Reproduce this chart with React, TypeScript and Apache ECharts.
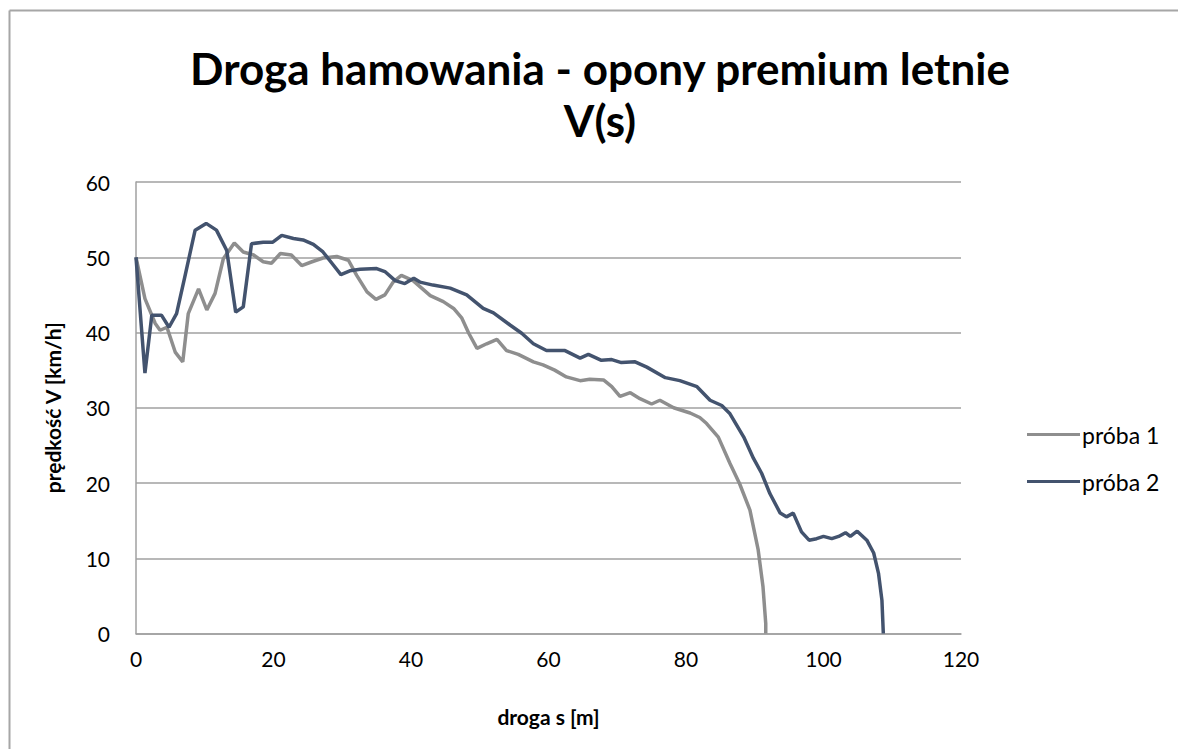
import React, { useEffect, useRef } from "react";
import * as echarts from "echarts";

const titleLines = ["Droga hamowania - opony premium letnie", "V(s)"];
const xAxisName = "droga s [m]";
const yAxisName = "prędkość V [km/h]";
const seriesNames = ["próba 1", "próba 2"];

const s1X = [0, 1.3, 2.8, 3.5, 4.5, 5.7, 6.8, 7.6, 9.1, 10.3, 11.5, 12.7, 14.3, 15.6, 17.1, 18.5, 19.7, 21.0, 22.6, 24.1, 25.6, 27.2, 29.2, 30.9, 32.1, 33.6, 34.9, 36.2, 37.4, 38.6, 40.3, 41.3, 42.8, 44.7, 46.2, 47.4, 48.4, 49.6, 51.0, 52.5, 53.9, 55.6, 57.8, 59.2, 60.9, 62.6, 64.6, 66.0, 68.0, 69.2, 70.4, 71.9, 73.3, 75.0, 76.2, 78.2, 80.6, 82.0, 83.0, 84.7, 86.4, 87.8, 89.3, 90.5, 91.2, 91.6, 91.6];
const s1Y = [50, 44.5, 41.2, 40.3, 40.7, 37.4, 36.1, 42.5, 45.8, 43.0, 45.2, 49.8, 51.9, 50.7, 50.3, 49.4, 49.2, 50.5, 50.3, 48.9, 49.4, 49.9, 50.1, 49.6, 47.6, 45.4, 44.4, 45.0, 46.7, 47.6, 46.9, 46.1, 44.9, 44.1, 43.2, 41.9, 39.9, 37.9, 38.5, 39.1, 37.6, 37.1, 36.1, 35.7, 35.0, 34.1, 33.6, 33.8, 33.7, 32.8, 31.5, 32.0, 31.2, 30.5, 31.0, 30.0, 29.3, 28.7, 27.9, 26.1, 22.6, 19.9, 16.4, 11.1, 6.2, 1.3, 0];

const s2X = [0, 1.3, 2.3, 3.7, 4.8, 5.9, 7.1, 8.6, 10.2, 11.7, 13.2, 14.5, 15.6, 16.8, 18.5, 19.9, 21.2, 22.9, 24.3, 25.8, 27.2, 28.5, 29.8, 31.1, 32.6, 35.0, 36.2, 37.7, 39.1, 40.4, 41.3, 43.2, 45.7, 48.1, 50.5, 52.0, 54.4, 56.1, 57.8, 59.7, 62.4, 64.6, 65.8, 67.7, 69.2, 70.6, 72.6, 74.3, 77.0, 79.1, 81.6, 83.5, 85.2, 86.4, 88.4, 89.8, 91.0, 92.2, 93.7, 94.6, 95.6, 96.8, 97.9, 99.0, 100.0, 101.2, 102.2, 103.2, 103.9, 104.9, 106.3, 107.3, 108.0, 108.5, 108.7];
const s2Y = [50, 34.6, 42.3, 42.3, 40.7, 42.5, 47.4, 53.6, 54.5, 53.6, 50.9, 42.7, 43.4, 51.8, 52.0, 52.0, 52.9, 52.5, 52.3, 51.7, 50.7, 49.2, 47.7, 48.2, 48.4, 48.5, 48.1, 46.9, 46.5, 47.2, 46.7, 46.3, 45.9, 45.0, 43.2, 42.6, 41.0, 39.9, 38.5, 37.6, 37.6, 36.6, 37.1, 36.3, 36.4, 36.0, 36.1, 35.4, 34.0, 33.6, 32.8, 31.0, 30.3, 29.2, 26.1, 23.3, 21.3, 18.6, 16.0, 15.5, 16.0, 13.5, 12.4, 12.6, 12.9, 12.6, 12.9, 13.4, 12.9, 13.6, 12.4, 10.7, 8.0, 4.4, 0];

const colors = ["#8e8e8e", "#43536e"];
const FONT = "Lato, 'Open Sans', sans-serif";

export default function App() {
  const ref = useRef<HTMLDivElement>(null);
  useEffect(() => {
    if (!ref.current) return;
    const chart = echarts.init(ref.current, null, { renderer: "svg" });
    const pair = (xs: number[], ys: number[]) => xs.map((x, i) => [x, ys[i]]);
    chart.setOption({
      animation: false,
      backgroundColor: "#ffffff",
      textStyle: { fontFamily: FONT },
      graphic: [
        {
          type: "line",
          shape: { x1: 9.5, y1: 10.5, x2: 1178, y2: 10.5 },
          style: { stroke: "#a6a6a6", lineWidth: 2 },
          silent: true,
        },
        {
          type: "line",
          shape: { x1: 9.5, y1: 10.5, x2: 9.5, y2: 749 },
          style: { stroke: "#a6a6a6", lineWidth: 2 },
          silent: true,
        },
        {
          type: "text",
          style: {
            text: titleLines[0],
            x: 600,
            y: 68,
            textAlign: "center",
            textVerticalAlign: "middle",
            fontFamily: FONT,
            fontWeight: "bold",
            fontSize: 44,
            fill: "#000",
          },
        },
        {
          type: "text",
          style: {
            text: titleLines[1],
            x: 600,
            y: 120,
            textAlign: "center",
            textVerticalAlign: "middle",
            fontFamily: FONT,
            fontWeight: "bold",
            fontSize: 44,
            fill: "#000",
          },
        },
      ],
      legend: {
        orient: "vertical",
        left: 1022,
        top: 418,
        itemWidth: 53,
        itemHeight: 26,
        itemGap: 24,
        icon: "path://M0,11.5 L53,11.5 L53,14.5 L0,14.5 Z",
        textStyle: { fontFamily: FONT, fontSize: 23, color: "#000", padding: [0, 0, 0, -3] },
        data: seriesNames,
      },
      grid: { left: 136, top: 182, width: 825, height: 451.5, containLabel: false },
      xAxis: {
        type: "value",
        min: 0,
        max: 120,
        interval: 20,
        name: xAxisName,
        nameLocation: "middle",
        nameGap: 72,
        nameTextStyle: { fontFamily: FONT, fontWeight: "bold", fontSize: 21, color: "#000" },
        axisLine: { show: true, lineStyle: { color: "#a0a0a0", width: 1.5 } },
        axisTick: { show: false },
        axisLabel: { fontFamily: FONT, fontSize: 21, color: "#000", margin: 14 },
        splitLine: { show: false },
      },
      yAxis: {
        type: "value",
        min: 0,
        max: 60,
        interval: 10,
        name: yAxisName,
        nameLocation: "middle",
        nameGap: 73,
        nameRotate: 90,
        nameTextStyle: { fontFamily: FONT, fontWeight: "bold", fontSize: 21, color: "#000" },
        axisLine: { show: true, lineStyle: { color: "#a0a0a0", width: 1.5 } },
        axisTick: { show: false },
        axisLabel: { fontFamily: FONT, fontSize: 21, color: "#000", margin: 26 },
        splitLine: { show: true, lineStyle: { color: "#a0a0a0", width: 1.5 } },
      },
      series: [
        {
          name: seriesNames[0],
          type: "line",
          data: pair(s1X, s1Y),
          symbol: "none",
          lineStyle: { color: colors[0], width: 3.5 },
          itemStyle: { color: colors[0] },
        },
        {
          name: seriesNames[1],
          type: "line",
          data: pair(s2X, s2Y),
          symbol: "none",
          lineStyle: { color: colors[1], width: 3.5 },
          itemStyle: { color: colors[1] },
        },
      ],
    });
    return () => chart.dispose();
  }, []);
  return (
    <div
      ref={ref}
      style={{ position: "fixed", left: 0, top: 0, width: 1178, height: 749, background: "#fff" }}
    />
  );
}
